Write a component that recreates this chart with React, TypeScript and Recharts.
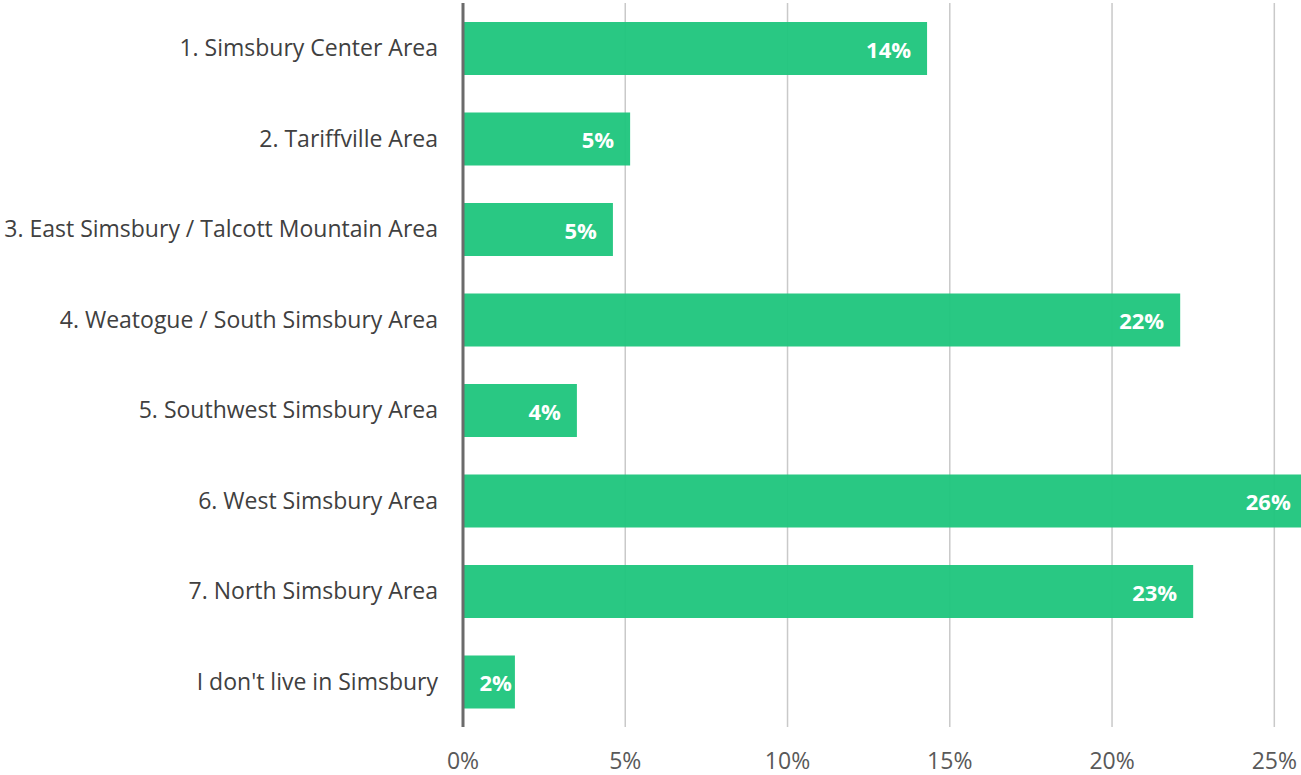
import React from "react";
import { BarChart, Bar, XAxis, YAxis, CartesianGrid, LabelList } from "recharts";

const categories = [
  "1. Simsbury Center Area",
  "2. Tariffville Area",
  "3. East Simsbury / Talcott Mountain Area",
  "4. Weatogue / South Simsbury Area",
  "5. Southwest Simsbury Area",
  "6. West Simsbury Area",
  "7. North Simsbury Area",
  "I don't live in Simsbury",
];
const shares = [14.3, 5.15, 4.62, 22.1, 3.51, 26.0, 22.5, 1.6];
const xTicks = [0, 5, 10, 15, 20, 25];

const data = categories.map((name, i) => ({ name, value: shares[i] }));

const FONT = "'Open Sans', sans-serif";

const BarLabel = (props: any) => {
  const { x, y, width, height, value } = props;
  const pad = width < 70 ? 3 : 16;
  return (
    <text
      x={x + width - pad}
      y={y + height / 2}
      textAnchor="end"
      dominantBaseline="central"
      fill="#ffffff"
      fontSize={22}
      fontWeight={700}
      fontFamily={FONT}
    >
      {`${Math.round(value)}%`}
    </text>
  );
};

export default function App() {
  return (
    <div style={{ position: "absolute", left: 0, top: 0, width: 1301, height: 775, overflow: "hidden", background: "#fff" }}>
      <BarChart
        width={1320}
        height={775}
        data={data}
        layout="vertical"
        margin={{ top: 3, right: 10, bottom: 0, left: 0 }}
        barCategoryGap={0}
      >
        <CartesianGrid horizontal={false} stroke="#c9c9c9" strokeWidth={1.5} />
        <XAxis
          type="number"
          domain={[0, 26.1]}
          ticks={xTicks}
          tickFormatter={(v: number) => `${v}%`}
          axisLine={false}
          tickLine={false}
          tickSize={0}
          tickMargin={26}
          height={48}
          interval={0}
          tick={{ fill: "#595959", fontSize: 23, fontFamily: FONT }}
        />
        <YAxis
          type="category"
          dataKey="name"
          width={463}
          axisLine={{ stroke: "#6b6b6b", strokeWidth: 3 }}
          tickLine={false}
          tickSize={0}
          tickMargin={25}
          interval={0}
          tick={{ fill: "#404040", fontSize: 23, fontFamily: FONT }}
        />
        <Bar dataKey="value" fill="#20c67e" fillOpacity={0.96} barSize={53} isAnimationActive={false}>
          <LabelList dataKey="value" content={BarLabel} />
        </Bar>
      </BarChart>
    </div>
  );
}
